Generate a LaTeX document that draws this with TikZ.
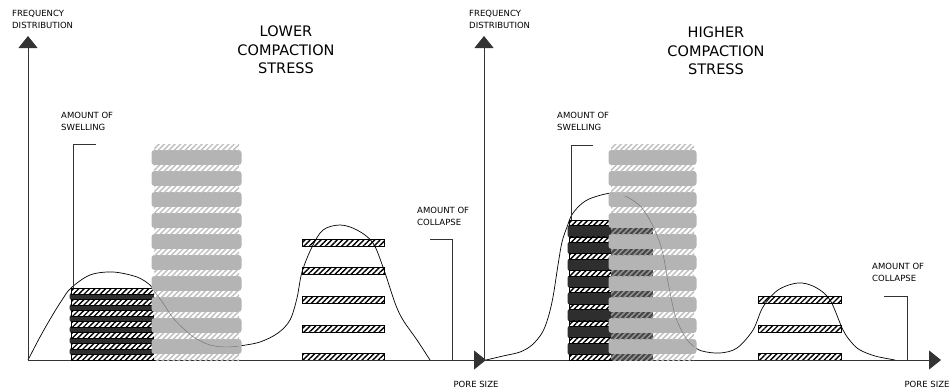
\documentclass[tikz,border=0pt]{standalone}
\usepackage{fontspec}
\setmainfont{DejaVu Sans}
\usetikzlibrary{patterns.meta,arrows.meta}

\definecolor{darkband}{HTML}{2E2E2E}
\definecolor{greyband}{HTML}{B4B4B4}
\definecolor{lighthatch}{HTML}{BEBEBE}
\definecolor{axisgrey}{HTML}{333333}

\tikzset{
  axis/.style={line width=0.9pt, draw=axisgrey, -{Triangle[length=12pt,width=19pt]}},
  bracket/.style={line width=0.8pt, draw=black!80},
  curve/.style={line width=0.7pt, draw=black},
  faintcurve/.style={line width=0.45pt, draw=black!55},
  hatch/.style={pattern={Lines[angle=45,distance=3.8pt,line width=1.4pt]}},
  blackhatch/.style={hatch, preaction={fill=white}, pattern color=black, draw=black, line width=0.5pt},
  greyhatch/.style={hatch, preaction={fill=white}, pattern color=lighthatch},
  deephatch/.style={hatch, preaction={fill=black!72}, pattern color=black!40},
  darkstrip/.style={fill=darkband, rounded corners=2.5pt},
  greystrip/.style={fill=greyband, rounded corners=3pt},
  lbl/.style={font=\fontsize{8.5}{12}\selectfont, align=left, inner sep=0pt},
  ttl/.style={font=\fontsize{14.5}{18.5}\selectfont, align=center, inner sep=0pt},
}

% pore size distribution curves
\def\pcurveL{plot[smooth, tension=0.55] coordinates {
  (28,360) (40,337) (52,316) (62,300) (71,288) (90,275) (113,272) (137,277)
  (150,285) (154,291) (163,303) (173,318) (185,330) (195,338) (210,345)
  (225,347) (239,346) (260,342) (278,333) (290,320) (297,298) (302,272)
  (312,247) (323,230) (340,225) (357,230) (373,243) (384,270) (395,303)
  (403,320) (417,340) (430,360)}}
\def\pcurveR{plot[smooth, tension=0.55] coordinates {
  (486,360) (503,356) (520,352) (532,345) (542,333) (548,318) (553,297)
  (558,265) (562,242) (567,227) (573,213) (587,200) (611,193) (625,196)
  (640,206) (652,224) (662,250) (668,282) (675,315) (684,335) (692,345)
  (702,351) (720,353) (737,348) (753,330) (763,307) (778,290) (798,283)
  (815,287) (830,300) (843,330) (852,343) (860,350) (875,356) (895,360)}}

\begin{document}
\begin{tikzpicture}[x=1pt, y=-1pt]
\useasboundingbox (0,0) rectangle (950,389);

% ---------- axes ----------
\coordinate (oL) at (28,360);
\coordinate (yL) at (28,36);
\coordinate (xL) at (486,360);
\coordinate (oR) at (484,360);
\coordinate (yR) at (484,36);
\coordinate (xR) at (941,360);

% ---------- hatched bars of the larger pores ----------
\foreach \t in {239,267,296,325,353}
  \path[blackhatch] (302,\t) rectangle (384,\t+7);
\foreach \t in {296,325,353}
  \path[blackhatch] (758,\t) rectangle (841,\t+7);

% ---------- curves ----------
\draw[curve] \pcurveL;
\draw[curve] \pcurveR;

\draw[axis] (oL) -- (yL);
\draw[axis] (oL) -- (xL);
\draw[axis] (oR) -- (yR);
\draw[axis] (oR) -- (xR);

% ---------- left panel: small pore stack ----------
\foreach \i in {0,...,5}
  \path[darkstrip] (69.5,288+\i*11+5) rectangle (155,288+\i*11+12);
\foreach \i in {0,...,6}
  \path[blackhatch] (71,288+\i*11) rectangle (154,288+\i*11+6);

% ---------- right panel: small pore stack ----------
\foreach \i in {0,...,7}
  \path[darkstrip] (567.5,220+\i*16.81+5) rectangle (612,220+\i*16.81+17.3);
\foreach \i in {0,...,8}
  \path[blackhatch] (569,220+\i*16.81) rectangle (611,220+\i*16.81+5.5);

% ---------- grey stacks (swollen aggregates) ----------
\foreach \x/\w in {154/85, 611/83} {
  \foreach \i in {0,...,9}
    \path[greystrip] (\x-2.5,150+\i*21) rectangle (\x+\w+2.5,165+\i*21);
  \foreach \i in {0,...,10}
    \path[greyhatch] (\x,144+\i*21) rectangle (\x+\w,150+\i*21);
}
% overlap of the two stacks in the right panel
\foreach \i in {4,...,10}
  \path[deephatch] (611,144+\i*21) rectangle (653,150+\i*21);

% curves seen through the grey stacks
\begin{scope}
  \clip (154,144) rectangle (239,360);
  \draw[faintcurve] \pcurveL;
\end{scope}
\begin{scope}
  \clip (611,196) rectangle (694,360);
  \draw[faintcurve] \pcurveR;
\end{scope}

% ---------- brackets ----------
\coordinate (swL1) at (73,288);
\coordinate (swL2) at (96,144);
\coordinate (swR1) at (571,220);
\coordinate (swR2) at (593,145);
\coordinate (coL1) at (430,239);
\coordinate (coL2) at (452,360);
\coordinate (coR1) at (884,296);
\coordinate (coR2) at (907,360);
\draw[bracket] (swL1) |- (swL2);
\draw[bracket] (swR1) |- (swR2);
\draw[bracket] (coL1) -| (coL2);
\draw[bracket] (coR1) -| (coR2);

% ---------- labels ----------
\node[lbl, anchor=north west] (freqL) at (12,10) {FREQUENCY\\DISTRIBUTION};
\node[lbl, anchor=north west] (freqR) at (469,10) {FREQUENCY\\DISTRIBUTION};
\node[ttl, anchor=north] (titleL) at (286,26) {LOWER\\COMPACTION\\STRESS};
\node[ttl, anchor=north] (titleR) at (716,27) {HIGHER\\COMPACTION\\STRESS};
\node[lbl, anchor=north west] (swellL) at (61,112) {AMOUNT OF\\SWELLING};
\node[lbl, anchor=north west] (swellR) at (557,112) {AMOUNT OF\\SWELLING};
\node[lbl, anchor=north west] (collL) at (417,207) {AMOUNT OF\\COLLAPSE};
\node[lbl, anchor=north west] (collR) at (872,263) {AMOUNT OF\\COLLAPSE};
\node[lbl, anchor=north] (poreL) at (476,381) {PORE SIZE};
\node[lbl, anchor=north] (poreR) at (927,381) {PORE SIZE};
\end{tikzpicture}
\end{document}
